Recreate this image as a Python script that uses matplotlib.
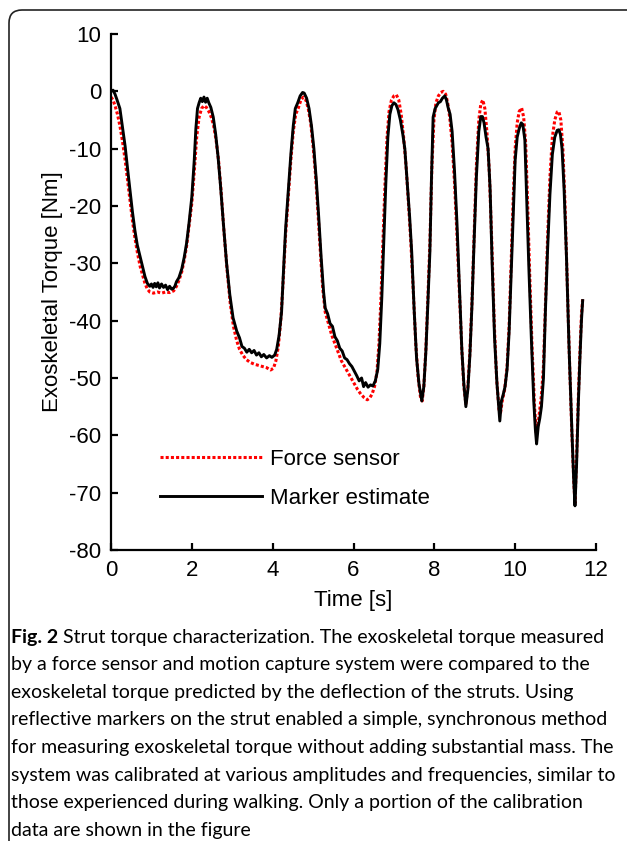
import matplotlib
matplotlib.use('Agg')
import matplotlib.pyplot as plt
from matplotlib.patches import FancyBboxPatch

# marker estimate (black)
marker_t = [0.00, 0.05, 0.10, 0.15, 0.22, 0.28, 0.35, 0.41, 0.47, 0.53, 0.59, 0.65, 0.72, 0.78, 0.84, 0.90,
            0.96, 1.00, 1.04, 1.08, 1.12, 1.16, 1.20, 1.25, 1.30, 1.35, 1.40, 1.45, 1.50, 1.54, 1.58, 1.62,
            1.68, 1.75, 1.81, 1.87, 1.93, 2.00, 2.06, 2.10, 2.14, 2.18, 2.22, 2.26, 2.30, 2.34, 2.38, 2.42,
            2.47, 2.53, 2.59, 2.65, 2.71, 2.78, 2.86, 2.94, 3.02, 3.11, 3.18, 3.24, 3.30, 3.36, 3.42, 3.48,
            3.54, 3.60, 3.66, 3.72, 3.78, 3.85, 3.92, 3.98, 4.05, 4.10, 4.16, 4.22, 4.27, 4.32, 4.39, 4.45,
            4.51, 4.56, 4.62, 4.68, 4.74, 4.78, 4.84, 4.90, 4.96, 5.02, 5.08, 5.14, 5.20, 5.26, 5.30, 5.36,
            5.42, 5.48, 5.54, 5.60, 5.66, 5.72, 5.78, 5.84, 5.90, 5.96, 6.02, 6.08, 6.14, 6.20, 6.25, 6.30,
            6.36, 6.42, 6.48, 6.54, 6.60, 6.65, 6.70, 6.75, 6.80, 6.85, 6.90, 6.95, 7.00, 7.05, 7.10, 7.16,
            7.22, 7.27, 7.33, 7.39, 7.44, 7.50, 7.56, 7.62, 7.69, 7.74, 7.79, 7.84, 7.89, 7.93, 7.97, 8.02,
            8.06, 8.10, 8.15, 8.20, 8.26, 8.30, 8.34, 8.39, 8.44, 8.50, 8.56, 8.62, 8.68, 8.73, 8.78, 8.83,
            8.88, 8.93, 8.98, 9.04, 9.10, 9.15, 9.19, 9.23, 9.28, 9.33, 9.38, 9.43, 9.49, 9.55, 9.62, 9.66,
            9.70, 9.75, 9.80, 9.85, 9.90, 9.95, 10.00, 10.05, 10.10, 10.15, 10.19, 10.24, 10.29, 10.34, 10.40,
            10.46, 10.50, 10.53, 10.57, 10.61, 10.65, 10.70, 10.75, 10.80, 10.86, 10.92, 10.98, 11.04, 11.08,
            11.12, 11.16, 11.21, 11.27, 11.33, 11.40, 11.45, 11.48, 11.52, 11.56, 11.60, 11.64, 11.67]
marker_tq = [0.0, 0.2, -0.5, -1.5, -3.0, -6.0, -9.6, -13.5, -17.2, -21.0, -24.2, -26.8, -28.8, -30.5, -32.3, -33.5,
             -34.0, -33.6, -34.2, -33.5, -34.1, -33.4, -34.3, -33.6, -34.2, -33.8, -34.6, -34.0, -34.5, -34.4, -34.0, -33.2,
             -32.5, -31.0, -29.0, -26.5, -23.0, -18.4, -12.0, -6.5, -3.0, -2.0, -1.2, -1.8, -1.0, -1.9, -1.2, -2.0,
             -2.8, -4.5, -7.5, -11.5, -16.5, -23.0, -30.0, -35.5, -39.5, -41.8, -43.0, -44.5, -44.8, -45.5, -45.0, -45.6,
             -45.2, -46.0, -45.6, -46.3, -45.9, -46.5, -46.1, -46.4, -46.0, -45.0, -42.5, -38.5, -31.0, -24.0, -17.0, -11.0,
             -6.0, -3.0, -2.0, -0.8, -0.2, -0.3, -1.2, -3.0, -6.0, -10.0, -15.5, -22.0, -29.0, -35.0, -37.8, -38.8,
             -40.5, -41.0, -42.8, -43.5, -44.8, -45.3, -46.5, -46.8, -47.5, -48.0, -48.8, -49.6, -50.5, -50.0, -51.5, -50.8,
             -51.6, -51.2, -51.4, -50.5, -48.5, -44.0, -36.0, -26.0, -16.0, -8.0, -4.0, -2.5, -2.0, -2.3, -3.2, -5.0,
             -7.5, -10.0, -16.0, -22.0, -28.0, -38.0, -46.5, -51.0, -54.0, -51.5, -45.5, -37.0, -28.0, -15.0, -4.5, -3.0,
             -2.5, -2.0, -1.8, -1.2, -0.8, -1.5, -2.8, -4.0, -7.0, -14.0, -23.0, -34.0, -45.0, -51.0, -55.0, -52.0,
             -46.0, -37.5, -27.0, -15.0, -7.0, -4.4, -4.4, -5.5, -8.0, -10.0, -17.0, -30.0, -43.0, -51.0, -57.5, -54.0,
             -53.0, -51.5, -48.5, -42.0, -32.0, -22.0, -12.0, -8.0, -6.5, -5.5, -5.8, -8.5, -20.0, -31.0, -43.0,
             -54.0, -59.0, -61.5, -58.5, -57.0, -55.0, -50.0, -38.0, -28.0, -18.0, -11.0, -8.0, -6.8, -6.7,
             -7.5, -10.0, -17.0, -29.0, -44.0, -58.5, -68.0, -72.3, -65.0, -55.0, -47.0, -40.0, -36.5]

# force sensor (red dotted)
force_t = [0.00, 0.05, 0.10, 0.16, 0.22, 0.28, 0.35, 0.41, 0.47, 0.53, 0.59, 0.65, 0.72, 0.78, 0.84, 0.90,
           0.96, 1.05, 1.15, 1.25, 1.35, 1.45, 1.55, 1.62, 1.68, 1.75, 1.81, 1.87, 1.93, 2.00, 2.06, 2.12,
           2.18, 2.24, 2.30, 2.36, 2.42, 2.48, 2.54, 2.60, 2.66, 2.72, 2.79, 2.87, 2.95, 3.03, 3.11, 3.18,
           3.26, 3.35, 3.45, 3.55, 3.65, 3.75, 3.85, 3.95, 4.02, 4.08, 4.14, 4.20, 4.26, 4.32, 4.39, 4.45,
           4.51, 4.57, 4.63, 4.70, 4.76, 4.82, 4.88, 4.94, 5.00, 5.06, 5.12, 5.18, 5.24, 5.30, 5.38, 5.46,
           5.54, 5.62, 5.70, 5.78, 5.86, 5.94, 6.02, 6.10, 6.18, 6.26, 6.34, 6.40, 6.46, 6.52, 6.58, 6.63,
           6.68, 6.73, 6.78, 6.83, 6.88, 6.94, 7.00, 7.06, 7.12, 7.18, 7.24, 7.30, 7.36, 7.42, 7.48, 7.54,
           7.60, 7.66, 7.70, 7.74, 7.79, 7.84, 7.89, 7.94, 7.99, 8.04, 8.10, 8.16, 8.22, 8.28, 8.33, 8.38,
           8.44, 8.50, 8.56, 8.62, 8.68, 8.73, 8.78, 8.83, 8.88, 8.93, 8.98, 9.04, 9.10, 9.15, 9.20, 9.25,
           9.30, 9.36, 9.42, 9.48, 9.54, 9.60, 9.64, 9.68, 9.74, 9.80, 9.85, 9.90, 9.95, 10.00, 10.05, 10.10,
           10.16, 10.21, 10.26, 10.31, 10.36, 10.42, 10.48, 10.52, 10.56, 10.60, 10.65, 10.70, 10.75, 10.80,
           10.86, 10.92, 10.98, 11.04, 11.08, 11.13, 11.18, 11.23, 11.28, 11.34, 11.40, 11.45, 11.48, 11.52,
           11.56, 11.60, 11.64, 11.67]
force_tq = [-1.0, -1.5, -2.5, -4.0, -6.0, -8.5, -12.0, -15.5, -19.0, -22.5, -25.5, -28.0, -30.5, -32.0, -33.5, -34.5,
            -35.0, -35.2, -35.0, -35.2, -35.0, -35.1, -34.8, -34.0, -33.0, -31.5, -29.5, -27.0, -23.5, -19.5, -14.0, -8.0,
            -4.5, -3.0, -2.5, -2.8, -3.5, -4.5, -6.0, -8.5, -12.0, -17.0, -24.0, -31.0, -37.0, -41.0, -43.5, -45.0,
            -46.0, -46.8, -47.3, -47.6, -47.8, -48.0, -48.2, -48.6, -48.3, -47.0, -44.5, -40.0, -33.0, -25.0, -18.0, -12.0,
            -7.0, -4.0, -3.0, -1.5, -1.0, -1.5, -3.0, -5.5, -9.5, -14.5, -21.0, -28.0, -34.5, -38.5, -40.5, -42.5,
            -44.0, -45.5, -47.0, -48.0, -49.0, -50.0, -51.0, -52.0, -52.8, -53.4, -53.8, -53.5, -52.8, -51.5, -49.0, -44.0,
            -36.0, -26.0, -16.0, -8.0, -3.5, -1.5, -0.8, -0.6, -1.5, -4.0, -8.0, -13.0, -19.5, -26.5, -35.0, -44.0,
            -50.0, -53.5, -54.0, -51.5, -45.0, -36.0, -26.5, -13.0, -5.0, -2.0, -0.8, -0.2, 0.0, -0.5, -2.0, -4.5,
            -9.0, -16.0, -25.0, -35.0, -45.0, -51.5, -54.5, -51.5, -45.5, -37.0, -26.0, -13.0, -5.0, -2.2, -1.5, -3.0,
            -7.0, -14.0, -26.0, -40.0, -50.0, -55.5, -56.0, -54.0, -52.0, -48.0, -41.0, -30.0, -19.0, -10.0, -5.5, -3.5,
            -2.9, -4.5, -9.0, -20.0, -32.0, -45.0, -55.0, -59.5, -58.5, -56.0, -53.0, -48.0, -37.0, -26.0,
            -15.0, -8.0, -5.0, -3.6, -3.5, -5.0, -10.0, -19.0, -31.0, -46.0, -59.0, -68.0, -71.8, -64.0,
            -54.0, -46.0, -39.0, -36.3]

series_labels = ['Force sensor', 'Marker estimate']
x_ticks = [0, 2, 4, 6, 8, 10, 12]
y_ticks = [10, 0, -10, -20, -30, -40, -50, -60, -70, -80]

caption_bold = 'Fig. 2'
caption_lines = [
    ' Strut torque characterization. The exoskeletal torque measured',
    'by a force sensor and motion capture system were compared to the',
    'exoskeletal torque predicted by the deflection of the struts. Using',
    'reflective markers on the strut enabled a simple, synchronous method',
    'for measuring exoskeletal torque without adding substantial mass. The',
    'system was calibrated at various amplitudes and frequencies, similar to',
    'those experienced during walking. Only a portion of the calibration',
    'data are shown in the figure',
]

plt.rcParams['font.family'] = ['Liberation Sans', 'DejaVu Sans']
plt.rcParams['axes.unicode_minus'] = False

fig = plt.figure(figsize=(6.27, 8.41), dpi=100)
ax = fig.add_axes([111/627, 1-550/841, (596-111)/627, (550-34)/841])

ax.plot(force_t, force_tq, color='#ff0000', lw=2.2, linestyle=(0, (1, 0.7)), label=series_labels[0])
ax.plot(marker_t, marker_tq, color='black', lw=2.1, label=series_labels[1])

ax.set_xlim(0, 12)
ax.set_ylim(-80, 10)
ax.set_xticks(x_ticks)
ax.set_yticks(y_ticks)
for s in ['top', 'right']:
    ax.spines[s].set_visible(False)
for s in ['left', 'bottom']:
    ax.spines[s].set_linewidth(1.6)
ax.tick_params(direction='in', length=5, width=1.6, labelsize=16, pad=7)
ax.set_xlabel('Time [s]', fontsize=16, labelpad=7)
ax.set_ylabel('Exoskeletal Torque [Nm]', fontsize=16, labelpad=4)

ax.legend(frameon=False, loc='upper left', bbox_to_anchor=(160/627, 1-449/841),
          bbox_transform=fig.transFigure, fontsize=16, handlelength=4.6,
          handletextpad=0.35, labelspacing=0.8, borderpad=0, borderaxespad=0)

# rounded frame, only top and left edges visible
frame = FancyBboxPatch((0.09, -0.5), 8, 8.31 + 0.5, boxstyle='round,pad=0,rounding_size=0.13',
                       transform=fig.dpi_scale_trans, fill=False, edgecolor='#222222', lw=1.2)
fig.patches.append(frame)

# caption
cap_font = ['Lato', 'DejaVu Sans']
y0 = 1 - 637/841
dy = 27.6/841
t_bold = fig.text(11/627, y0, caption_bold, fontsize=14.0, fontweight='bold', family=cap_font,
                  va='center', ha='left')
fig.canvas.draw()
bb = t_bold.get_window_extent()
x_after = bb.x1 / fig.bbox.width
fig.text(x_after, y0, caption_lines[0], fontsize=14.0, family=cap_font, va='center', ha='left')
for i, line in enumerate(caption_lines[1:], start=1):
    fig.text(11/627, y0 - i*dy, line, fontsize=14.0, family=cap_font, va='center', ha='left')

fig.savefig('out.png', dpi=100)
